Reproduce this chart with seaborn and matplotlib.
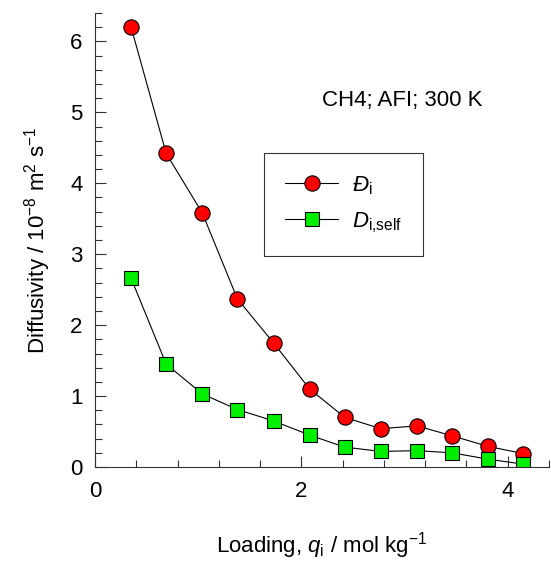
import matplotlib
matplotlib.use("Agg")
import matplotlib.pyplot as plt
import seaborn as sns
import pandas as pd
from matplotlib.ticker import MultipleLocator

loading = [0.35, 0.69, 1.04, 1.38, 1.73, 2.08, 2.42, 2.77, 3.12, 3.46, 3.81, 4.15]
d_maxwell = [6.20, 4.42, 3.58, 2.37, 1.75, 1.10, 0.70, 0.54, 0.58, 0.44, 0.29, 0.19]
d_self = [2.66, 1.45, 1.03, 0.81, 0.65, 0.45, 0.28, 0.22, 0.23, 0.20, 0.11, 0.04]
label_m = r"$\mathit{Đ}_\mathrm{i}$"
label_s = r"$D_\mathrm{i{,}self}$"

sns.set_style("ticks")
plt.rcParams['font.family'] = ['Liberation Sans', 'DejaVu Sans']
plt.rcParams['mathtext.fontset'] = 'custom'
plt.rcParams['mathtext.rm'] = 'Liberation Sans'
plt.rcParams['mathtext.it'] = 'Liberation Sans:italic'
plt.rcParams['mathtext.bf'] = 'Liberation Sans:bold'
for k in ['text.color', 'axes.labelcolor', 'xtick.color', 'ytick.color']:
    plt.rcParams[k] = 'black'

df_m = pd.DataFrame({"x": loading, "y": d_maxwell})
df_s = pd.DataFrame({"x": loading, "y": d_self})

fig = plt.figure(figsize=(5.51, 5.65), dpi=100)
ax = fig.add_axes([95/551, 1-467/565, (549-95)/551, (467-13)/565])

sns.lineplot(data=df_m, x="x", y="y", ax=ax, color="black", lw=0.8,
             marker="o", markersize=11, markerfacecolor="#ff0000",
             markeredgecolor="black", markeredgewidth=0.8, label=label_m)
sns.lineplot(data=df_s, x="x", y="y", ax=ax, color="black", lw=0.8,
             marker="s", markersize=10, markerfacecolor="#00ee00",
             markeredgecolor="black", markeredgewidth=0.8, label=label_s)

ax.set_xlim(0, 4.4)
ax.set_ylim(0, 6.4)
ax.xaxis.set_major_locator(MultipleLocator(2))
ax.xaxis.set_minor_locator(MultipleLocator(0.4))
ax.yaxis.set_major_locator(MultipleLocator(1))
ax.yaxis.set_minor_locator(MultipleLocator(0.2))
ax.tick_params(which="both", direction="in", labelsize=16, width=0.8, color="#333333")
ax.tick_params(which="major", length=8)
ax.tick_params(which="minor", length=5)
ax.tick_params(axis="x", pad=10)
ax.tick_params(axis="y", pad=9)
for s in ["top", "right"]:
    ax.spines[s].set_visible(False)
for s in ["left", "bottom"]:
    ax.spines[s].set_linewidth(0.8)
    ax.spines[s].set_color("#333333")

ax.set_xlabel(r"Loading, $q_\mathrm{i}$ / mol kg$^{-1}$", fontsize=16, labelpad=20)
ax.set_ylabel(r"Diffusivity / 10$^{-8}$ m$^2$ s$^{-1}$", fontsize=16, labelpad=12)

ax.text(2.2, 5.17, "CH4; AFI; 300 K", fontsize=16, ha="left", va="center")

leg = ax.legend(loc="upper left", bbox_to_anchor=((264-95)/454, (467-153)/454),
                fontsize=16, frameon=True, fancybox=False, edgecolor="black",
                borderpad=0.95, borderaxespad=0, handlelength=2.4, handletextpad=0.6,
                labelspacing=0.6)
leg.get_frame().set_linewidth(0.8)

fig.savefig("out.png", dpi=100)
